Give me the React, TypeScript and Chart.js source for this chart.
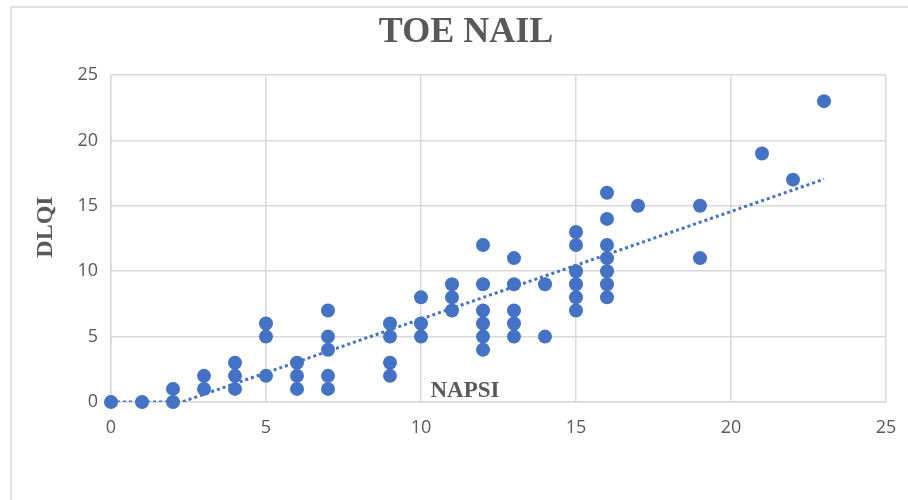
import React, { useEffect, useRef } from "react";
import { Chart, registerables } from "chart.js";

Chart.register(...registerables);

const chartTitle = "TOE NAIL";
const xAxisTitle = "NAPSI";
const yAxisTitle = "DLQI";

// NAPSI values (x) and DLQI values (y), one entry per visible point
const napsi: number[] = [
  0, 1, 2, 2, 3, 3, 4, 4, 4, 5, 5, 5, 6, 6, 6,
  7, 7, 7, 7, 7, 9, 9, 9, 9, 10, 10, 10, 11, 11, 11,
  12, 12, 12, 12, 12, 12, 13, 13, 13, 13, 13, 14, 14,
  15, 15, 15, 15, 15, 15, 16, 16, 16, 16, 16, 16, 16,
  17, 19, 19, 21, 22, 23,
];
const dlqi: number[] = [
  0, 0, 1, 0, 2, 1, 3, 2, 1, 6, 5, 2, 3, 2, 1,
  7, 5, 4, 2, 1, 6, 5, 3, 2, 8, 6, 5, 9, 8, 7,
  12, 9, 7, 6, 5, 4, 11, 9, 7, 6, 5, 9, 5,
  13, 12, 10, 9, 8, 7, 16, 14, 12, 11, 10, 9, 8,
  15, 15, 11, 19, 17, 23,
];

const xTicks = [0, 5, 10, 15, 20, 25];
const yTicks = [0, 5, 10, 15, 20, 25];

const pointColor = "#4472C4";
const gridColor = "#d9d9d9";
const textColor = "#595959";

export default function App() {
  const ref = useRef<HTMLCanvasElement | null>(null);

  useEffect(() => {
    if (!ref.current) return;
    const pts = napsi.map((x, i) => ({ x, y: dlqi[i] }));
    // least-squares linear trendline from the data
    const n = pts.length;
    const mx = napsi.reduce((a, b) => a + b, 0) / n;
    const my = dlqi.reduce((a, b) => a + b, 0) / n;
    let sxx = 0, sxy = 0;
    for (let i = 0; i < n; i++) {
      sxx += (napsi[i] - mx) ** 2;
      sxy += (napsi[i] - mx) * (dlqi[i] - my);
    }
    const m = sxy / sxx;
    const b = my - m * mx;
    const xMin = Math.min(...napsi);
    const xMax = Math.max(...napsi);
    const trend: { x: number; y: number }[] = [];
    if (b < 0) {
      trend.push({ x: xMin, y: 0 });
      trend.push({ x: -b / m, y: 0 });
    } else {
      trend.push({ x: xMin, y: b });
    }
    trend.push({ x: xMax, y: b + m * xMax });

    const textPlugin = {
      id: "texts",
      beforeDraw(chart: any) {
        const c = chart.ctx;
        c.save();
        c.strokeStyle = gridColor;
        c.lineWidth = 1.5;
        c.beginPath();
        c.moveTo(11, 520);
        c.lineTo(11, 7);
        c.lineTo(920, 7);
        c.stroke();
        c.restore();
      },
      afterDraw(chart: any) {
        const c = chart.ctx;
        c.save();
        c.fillStyle = textColor;
        c.textAlign = "center";
        c.textBaseline = "alphabetic";
        c.font = "bold 36px 'Liberation Serif', 'DejaVu Serif', serif";
        c.fillText(chartTitle, 466, 42);
        c.font = "bold 23px 'Liberation Serif', 'DejaVu Serif', serif";
        c.fillText(xAxisTitle, 465, 397);
        c.translate(45, 227);
        c.rotate(-Math.PI / 2);
        c.textBaseline = "middle";
        c.font = "bold 24px 'Liberation Serif', 'DejaVu Serif', serif";
        c.fillText(yAxisTitle, 0, 1);
        c.restore();
      },
    };

    const chart = new Chart(ref.current, {
      type: "scatter",
      data: {
        datasets: [
          {
            type: "line",
            label: "Trend",
            data: trend,
            borderColor: pointColor,
            borderWidth: 3,
            borderDash: [3, 3],
            pointRadius: 0,
            fill: false,
            tension: 0,
            order: 2,
          } as any,
          {
            label: "Points",
            data: pts,
            backgroundColor: pointColor,
            borderWidth: 0,
            pointRadius: 7,
            clip: false,
            order: 1,
          } as any,
        ],
      },
      options: {
        responsive: false,
        animation: false,
        layout: { padding: { top: 75, right: 22, left: 0, bottom: 0 } },
        plugins: {
          legend: { display: false },
          tooltip: { enabled: false },
          title: { display: false },
        },
        scales: {
          x: {
            type: "linear",
            min: 0,
            max: 25,
            afterBuildTicks: (s: any) => {
              s.ticks = xTicks.map((v) => ({ value: v }));
            },
            afterFit: (s: any) => {
              s.height = 98;
              s.paddingLeft = 0;
              s.paddingRight = 0;
            },
            grid: { color: gridColor, lineWidth: 1.5, drawTicks: false },
            border: { color: gridColor, width: 1.5 },
            ticks: {
              color: textColor,
              padding: 15,
              font: { family: "'Open Sans', sans-serif", size: 18 },
            },
          },
          y: {
            type: "linear",
            min: 0,
            max: 25,
            afterBuildTicks: (s: any) => {
              s.ticks = yTicks.map((v) => ({ value: v }));
            },
            afterFit: (s: any) => {
              s.width = 111;
              s.paddingTop = 0;
              s.paddingBottom = 0;
            },
            grid: { color: gridColor, lineWidth: 1.5, drawTicks: false },
            border: { color: gridColor, width: 1.5 },
            ticks: {
              color: textColor,
              padding: 13,
              font: { family: "'Open Sans', sans-serif", size: 18 },
            },
          },
        },
      },
      plugins: [textPlugin],
    });
    return () => chart.destroy();
  }, []);

  return (
    <div style={{ position: "absolute", left: 0, top: 0, width: 908, height: 500, background: "#fff" }}>
      <canvas ref={ref} width={908} height={500} style={{ width: 908, height: 500, display: "block" }} />
    </div>
  );
}
